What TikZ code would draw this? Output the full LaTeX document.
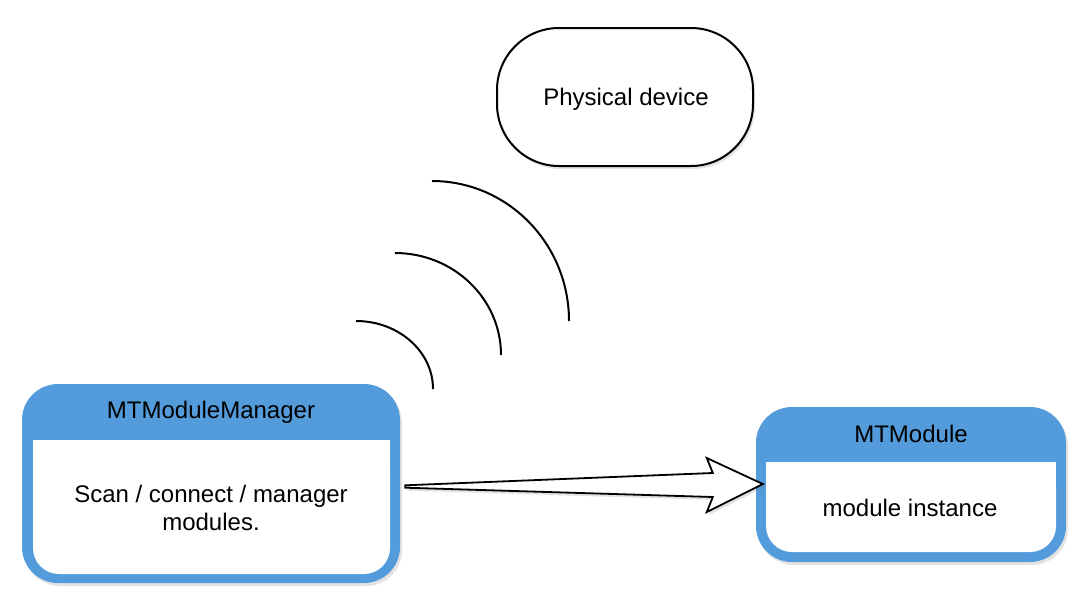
\documentclass[tikz,border=0pt]{standalone}
\usepackage{fontspec}
\setmainfont{Liberation Sans}
\usetikzlibrary{calc,shadows}
\definecolor{laneblue}{RGB}{83,155,218}
\begin{document}
\begin{tikzpicture}[x=1pt,y=-1pt,
  every node/.style={font=\fontsize{24}{28}\selectfont, inner sep=0pt},
  sh/.style={drop shadow={shadow xshift=2pt,shadow yshift=-3pt,opacity=0.22}},
  lane/.style={fill=laneblue, rounded corners=36pt, sh},
  pill/.style={draw=black, line width=2pt, fill=white, rounded corners=62pt, sh},
  wave/.style={draw=black, line width=2pt},
  bigarrow/.style={draw=black, line width=1.8pt, fill=white, line join=miter, sh}]
\useasboundingbox (0,0) rectangle (1092,600);
% Physical device
\node[pill, minimum width=256pt, minimum height=138pt] (dev) at (625,97) {};
\node (devtext) at (626,99) {Physical device};
% waves
\draw[wave] (356,321) arc[start angle=270, end angle=360, x radius=77, y radius=68];
\draw[wave] (395,253) arc[start angle=270, end angle=360, x radius=106, y radius=102];
\draw[wave] (432,181) arc[start angle=270, end angle=360, x radius=137, y radius=140];
% MTModuleManager
\node[lane, minimum width=378pt, minimum height=199pt] (mgr) at (211,483.5) {};
\fill[white, rounded corners=26pt] (33,440) rectangle (390,574);
\fill[white] (33,440) rectangle (390,480);
\node (mgrtitle) at (211,412) {MTModuleManager};
\node[align=center] (mgrtext) at (211,508) {Scan / connect / manager\\modules.};
% MTModule
\node[lane, minimum width=310pt, minimum height=155pt] (mod) at (911,484.5) {};
\fill[white, rounded corners=26pt] (766,462) rectangle (1056,552);
\fill[white] (766,462) rectangle (1056,500);
\node (modtitle) at (911,434) {MTModule};
\node (modtext) at (910,508) {module instance};
% arrow
\coordinate (tail) at ($(mgr.east)+(5,3)$);
\coordinate (tip) at ($(mod.west)+(7,-0.5)$);
\draw[bigarrow] ($(tail)+(0,-1.2)$) -- ($(tip)+(-50,-11)$) -- ($(tip)+(-56,-26)$) -- (tip)
  -- ($(tip)+(-56,28)$) -- ($(tip)+(-50,13)$) -- ($(tail)+(0,1.2)$) -- cycle;
\end{tikzpicture}
\end{document}
